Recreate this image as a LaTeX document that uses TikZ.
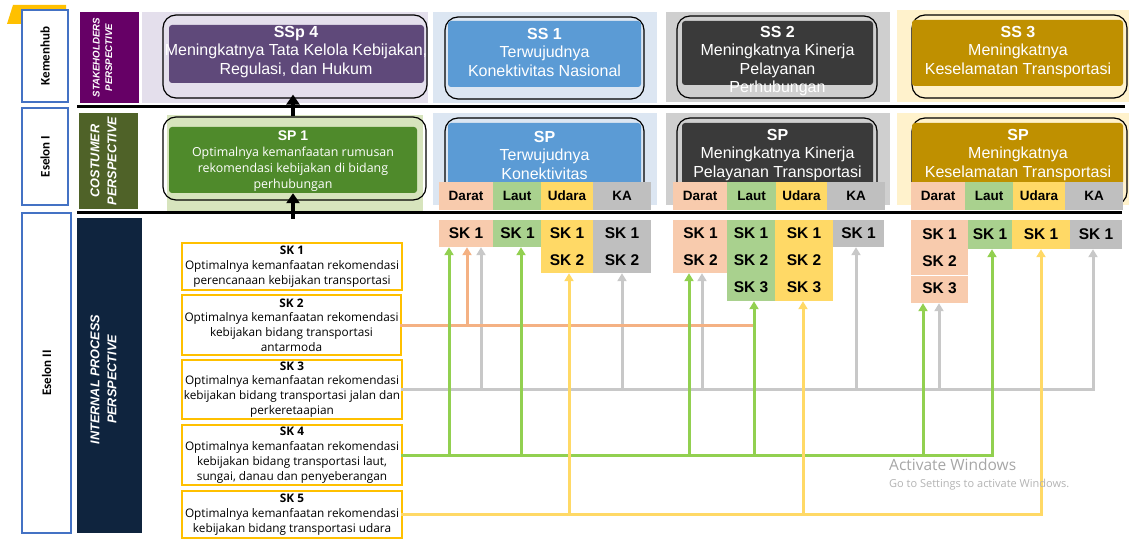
\documentclass[tikz,border=0pt]{standalone}
\usepackage{fontspec}
\setmainfont{Liberation Sans}
\newfontfamily\skfont{Open Sans}
\newfontfamily\lblfont{Carlito}
\usetikzlibrary{arrows.meta}
\definecolor{LBlue}{HTML}{4472C4}
\definecolor{TabGold}{HTML}{FFC000}
\definecolor{StakePurple}{HTML}{660066}
\definecolor{CostOlive}{HTML}{4F6228}
\definecolor{IntNavy}{HTML}{0F243E}
\definecolor{LavBg}{HTML}{E4DFEC}
\definecolor{SspPurple}{HTML}{5F497A}
\definecolor{GreenBg}{HTML}{D7E4BD}
\definecolor{SpGreen}{HTML}{4F8A2B}
\definecolor{BlueBg}{HTML}{DCE6F2}
\definecolor{SsBlue}{HTML}{5B9BD5}
\definecolor{GrayBg}{HTML}{CFCFCF}
\definecolor{SsDark}{HTML}{3A3A3A}
\definecolor{CreamBg}{HTML}{FFF2CC}
\definecolor{SsGold}{HTML}{BF9000}
\definecolor{Darat}{HTML}{F8CBAD}
\definecolor{Laut}{HTML}{A9D18E}
\definecolor{Udara}{HTML}{FFD966}
\definecolor{KA}{HTML}{BFBFBF}
\definecolor{LnGreen}{HTML}{92D050}
\definecolor{LnOrange}{HTML}{F4B183}
\definecolor{LnGray}{HTML}{C8C8C8}
\definecolor{LnYellow}{HTML}{FFD966}
\definecolor{WinGray}{HTML}{A6A6A6}

\begin{document}
\begin{tikzpicture}[x=1pt, y=-1pt,
    sized/.style 2 args={minimum width=#1, minimum height=#2, inner sep=0pt},
    unitbox/.style={draw=LBlue, line width=2.5pt, fill=white, rotate=90,
        font=\lblfont\bfseries\fontsize{13}{15}\selectfont},
    persp/.style={text=white, rotate=90, align=center,
        font=\bfseries\itshape\fontsize{12.7}{17}\selectfont},
    goalframe/.style={draw=black, line width=1.2pt, rounded corners=13pt},
    goalfill/.style={rounded corners=3pt},
    goaltext/.style={text=white, align=center, font=\fontsize{16}{18.5}\selectfont},
    mode/.style={font=\bfseries\fontsize{13.5}{15}\selectfont},
    skcell/.style={align=center, font=\bfseries\fontsize{15.5}{27}\selectfont},
    skdesc/.style={draw=TabGold, line width=1.1pt, fill=white, align=center,
        font=\skfont\fontsize{11.8}{14.8}\selectfont},
    link/.style={line width=3pt, line cap=rect},
    linkarrow/.style={line width=3pt, -{Triangle[width=9pt,length=8pt]}},
    bigarrow/.style={line width=4.5pt, -{Triangle[width=13pt,length=10pt]}}]
    \useasboundingbox (0,0) rectangle (1129,545);

    % Corner tab
    \fill[TabGold] (7,24) -- (13,5) -- (66,5) -- (66,24) -- cycle;

    % Column backgrounds
    \fill[LavBg] (142,12) rectangle (428,103);
    \fill[GreenBg] (167,115) rectangle (423,213);
    \fill[BlueBg] (433,12) rectangle (657,103);
    \fill[BlueBg] (433,113) rectangle (657,205);
    \fill[GrayBg] (666,12) rectangle (890,102);
    \fill[GrayBg] (666,113) rectangle (890,205);
    \fill[CreamBg] (897,10) rectangle (1129,102);
    \fill[CreamBg] (897,113) rectangle (1129,205);

    % Row separators
    \draw[line width=3pt] (77,107) -- (1125,107);
    \draw[line width=3pt] (77,213) -- (1122,213);

    % Level labels
    \node[unitbox, sized={92}{46}] (kemenhub) at (45,56) {Kemenhub};
    \node[unitbox, sized={97}{46}] (eselonI) at (45,156.5) {Eselon I};
    \node[unitbox, sized={320}{49}] (eselonII) at (46.5,373) {Eselon II};

    % Perspectives
    \node[sized={59}{91}, fill=StakePurple] (stakeholder) at (109.5,57.5) {};
    \node[persp, font=\bfseries\itshape\fontsize{9.7}{12.5}\selectfont] (stakeholderTxt)
        at ([xshift=-7pt]stakeholder.center) {STAKEHOLDERS\\PERSPECTIVE};
    \node[sized={59}{96}, fill=CostOlive] (costumer) at (108.5,161) {};
    \node[persp] (costumerTxt) at ([xshift=-5pt]costumer.center) {COSTUMER\\PERSPECTIVE};
    \node[sized={65}{315}, fill=IntNavy] (internal) at (109.5,375.5) {};
    \node[persp] (internalTxt) at ([xshift=-6pt,yshift=-4pt]internal.center)
        {INTERNAL PROCESS\\PERSPECTIVE};

    % Stakeholder goals
    \node[goalframe, sized={264}{83}] (ssp4frame) at (295,56.5) {};
    \node[goalfill, sized={255}{58}, fill=SspPurple] (ssp4) at (296.5,54) {};
    \node[goaltext] (ssp4txt) at (296,52) {\textbf{SSp 4}\\Meningkatnya Tata Kelola Kebijakan,\\Regulasi, dan Hukum};

    \node[goalframe, sized={199}{82}] (ss1frame) at (544.5,58) {};
    \node[goalfill, sized={193}{66}, fill=SsBlue] (ss1) at (544.5,54) {};
    \node[goaltext] (ss1txt) at (544.5,52) {\textbf{SS 1}\\Terwujudnya\\Konektivitas Nasional};

    \node[goalframe, sized={200}{82}] (ss2frame) at (777,57) {};
    \node[goalfill, sized={191}{64}, fill=SsDark] (ss2) at (777.5,53) {};
    \node[goaltext] (ss2txt) at (777.5,61) {\textbf{SS 2}\\Meningkatnya Kinerja\\Pelayanan\\Perhubungan};

    \node[goalframe, sized={215}{83}] (ss3frame) at (1019.5,56.5) {};
    \node[goalfill, sized={211}{66}, fill=SsGold] (ss3) at (1017.5,53) {};
    \node[goaltext] (ss3txt) at (1018,52) {\textbf{SS 3}\\Meningkatnya\\Keselamatan Transportasi};

    % Program goals
    \node[goalframe, sized={263}{83}] (sp1frame) at (294.5,158.5) {};
    \node[goalfill, sized={248}{66}, fill=SpGreen] (sp1) at (293,160) {};
    \node[text=white, align=center, font=\skfont\fontsize{12.4}{16}\selectfont] (sp1txt) at (293,161)
        {\normalfont\bfseries\fontsize{14}{16}\selectfont SP 1\\Optimalnya kemanfaatan rumusan\\rekomendasi kebijakan di bidang\\perhubungan};

    \node[goalframe, sized={199}{87}] (spAframe) at (544.5,161.5) {};
    \node[goalfill, sized={193}{62}, fill=SsBlue] (spA) at (544.5,154) {};
    \node[goaltext] (spAtxt) at (544.5,155) {\textbf{SP}\\Terwujudnya\\Konektivitas};

    \node[goalframe, sized={200}{87}] (spBframe) at (777,161.5) {};
    \node[goalfill, sized={191}{62}, fill=SsDark] (spB) at (777.5,154) {};
    \node[goaltext] (spBtxt) at (777.5,155) {\textbf{SP}\\Meningkatnya Kinerja\\Pelayanan Transportasi};

    \node[goalframe, sized={215}{87}] (spCframe) at (1019.5,161.5) {};
    \node[goalfill, sized={211}{62}, fill=SsGold] (spC) at (1017.5,154) {};
    \node[goaltext] (spCtxt) at (1018,155) {\textbf{SP}\\Meningkatnya\\Keselamatan Transportasi};

    % Mode strips
    \node[mode, sized={54}{28}, fill=Darat] (daratA) at (466,196) {Darat};
    \node[mode, sized={48}{28}, fill=Laut] (lautA) at (517,196) {Laut};
    \node[mode, sized={52}{28}, fill=Udara] (udaraA) at (567,196) {Udara};
    \node[mode, sized={58}{28}, fill=KA] (kaA) at (622,196) {KA};
    \node[mode, sized={54}{28}, fill=Darat] (daratB) at (700,196) {Darat};
    \node[mode, sized={49}{28}, fill=Laut] (lautB) at (751.5,196) {Laut};
    \node[mode, sized={51}{28}, fill=Udara] (udaraB) at (801.5,196) {Udara};
    \node[mode, sized={58}{28}, fill=KA] (kaB) at (856,196) {KA};
    \node[mode, sized={54}{28}, fill=Darat] (daratC) at (938,196) {Darat};
    \node[mode, sized={48}{28}, fill=Laut] (lautC) at (989,196) {Laut};
    \node[mode, sized={52}{28}, fill=Udara] (udaraC) at (1039,196) {Udara};
    \node[mode, sized={58}{28}, fill=KA] (kaC) at (1094,196) {KA};

    % Black arrows
    \coordinate (sp1foot) at (293,219);
    \draw[bigarrow] (sp1foot) -- (sp1.south);
    \draw[bigarrow] (sp1.south |- sp1frame.north) -- ([yshift=4pt]sp1.south |- ssp4frame.south);

    % SK cells
    \node[skcell, sized={54}{27}, fill=Darat] (skDaratA) at (466,233.5) {SK 1};
    \node[skcell, sized={49}{27}, fill=Laut] (skLautA) at (517.5,233.5) {SK 1};
    \node[skcell, sized={52}{53}, fill=Udara] (skUdaraA) at (567,246.5) {SK 1\\SK 2};
    \node[skcell, sized={58}{53}, fill=KA] (skKaA) at (622,246.5) {SK 1\\SK 2};
    \node[skcell, sized={55}{53}, fill=Darat] (skDaratB) at (700.5,246.5) {SK 1\\SK 2};
    \node[skcell, sized={48}{81}, fill=Laut] (skLautB) at (751,260.5) {SK 1\\SK 2\\SK 3};
    \node[skcell, sized={58}{81}, fill=Udara] (skUdaraB) at (804,260.5) {SK 1\\SK 2\\SK 3};
    \node[skcell, sized={51}{27}, fill=KA] (skKaB) at (858.5,233.5) {SK 1};
    \node[skcell, sized={57}{83}, fill=Darat] (skDaratC) at (939.5,261.5) {SK 1\\SK 2\\SK 3};
    \draw[white, line width=0.8pt] (911,275) -- (968,275);
    \node[skcell, sized={44}{29}, fill=Laut] (skLautC) at (990,234.5) {SK 1};
    \node[skcell, sized={58}{29}, fill=Udara] (skUdaraC) at (1041,234.5) {SK 1};
    \node[skcell, sized={52}{29}, fill=KA] (skKaC) at (1096,234.5) {SK 1};

    % SK descriptions
    \node[skdesc, sized={220}{47}] (sk1) at (292,266.5)
        {\textbf{SK 1}\\Optimalnya kemanfaatan rekomendasi\\perencanaan kebijakan transportasi};
    \node[skdesc, sized={219}{60}] (sk2) at (291.5,325)
        {\textbf{SK 2}\\Optimalnya kemanfaatan rekomendasi\\kebijakan bidang transportasi\\antarmoda};
    \node[skdesc, sized={220}{59}] (sk3) at (292,389.5)
        {\textbf{SK 3}\\Optimalnya kemanfaatan rekomendasi\\kebijakan bidang transportasi jalan dan\\perkeretaapian};
    \node[skdesc, sized={220}{60}] (sk4) at (292,455)
        {\textbf{SK 4}\\Optimalnya kemanfaatan rekomendasi\\kebijakan bidang transportasi laut,\\sungai, danau dan penyeberangan};
    \node[skdesc, sized={220}{47}] (sk5) at (292,514.5)
        {\textbf{SK 5}\\Optimalnya kemanfaatan rekomendasi\\kebijakan bidang transportasi udara};

    % Arrow feet under the SK cells
    \coordinate (grDA) at ([xshift=-17pt]skDaratA.south);
    \coordinate (orDA) at ([xshift=1pt]skDaratA.south);
    \coordinate (gyDA) at ([xshift=15pt]skDaratA.south);
    \coordinate (grLA) at ([xshift=3.5pt]skLautA.south);
    \coordinate (yeUA) at ([xshift=2pt]skUdaraA.south);
    \coordinate (gyKA) at (skKaA.south);
    \coordinate (grDB) at ([xshift=-11.5pt]skDaratB.south);
    \coordinate (gyDB) at ([xshift=1.5pt]skDaratB.south);
    \coordinate (grLB) at ([xshift=3pt]skLautB.south);
    \coordinate (yeUB) at ([xshift=-1pt]skUdaraB.south);
    \coordinate (gyKB) at ([xshift=-2.5pt]skKaB.south);
    \coordinate (grDC) at ([xshift=-16.5pt]skDaratC.south);
    \coordinate (gyDC) at ([xshift=-0.5pt]skDaratC.south);
    \coordinate (grLC) at ([xshift=2pt]skLautC.south);
    \coordinate (yeUC) at (skUdaraC.south);
    \coordinate (gyKC) at ([xshift=-3pt]skKaC.south);

    % SK 3 links
    \draw[link, LnGray] (sk3.east) -- (gyKC |- sk3.east);
    \draw[linkarrow, LnGray] (gyDA |- sk3.east) -- (gyDA);
    \draw[linkarrow, LnGray] (gyKA |- sk3.east) -- (gyKA);
    \draw[linkarrow, LnGray] (gyDB |- sk3.east) -- (gyDB);
    \draw[linkarrow, LnGray] (gyKB |- sk3.east) -- (gyKB);
    \draw[linkarrow, LnGray] (gyDC |- sk3.east) -- (gyDC);
    \draw[linkarrow, LnGray] (gyKC |- sk3.east) -- (gyKC);

    % SK 2 links
    \draw[link, LnOrange] (sk2.east) -- (grLB |- sk2.east);
    \draw[linkarrow, LnOrange] (orDA |- sk2.east) -- (orDA);

    % SK 4 links
    \draw[link, LnGreen] (sk4.east) -- (grLC |- sk4.east);
    \draw[linkarrow, LnGreen] (grDA |- sk4.east) -- (grDA);
    \draw[linkarrow, LnGreen] (grLA |- sk4.east) -- (grLA);
    \draw[linkarrow, LnGreen] (grDB |- sk4.east) -- (grDB);
    \draw[linkarrow, LnGreen] (grLB |- sk4.east) -- (grLB);
    \draw[linkarrow, LnGreen] (grDC |- sk4.east) -- (grDC);
    \draw[linkarrow, LnGreen] (grLC |- sk4.east) -- (grLC);

    % SK 5 links
    \draw[link, LnYellow] (sk5.east) -- (yeUC |- sk5.east);
    \draw[linkarrow, LnYellow] (yeUA |- sk5.east) -- (yeUA);
    \draw[linkarrow, LnYellow] (yeUB |- sk5.east) -- (yeUB);
    \draw[linkarrow, LnYellow] (yeUC |- sk5.east) -- (yeUC);

    % Watermark
    \node[anchor=west, inner sep=0pt, text=WinGray, font=\skfont\fontsize{15.5}{18}\selectfont] (actwin) at (889,465) {Activate Windows};
    \node[anchor=west, inner sep=0pt, text=WinGray!85, font=\skfont\fontsize{11}{13}\selectfont] (actwinSub) at (889,485) {Go to Settings to activate Windows.};
\end{tikzpicture}
\end{document}
